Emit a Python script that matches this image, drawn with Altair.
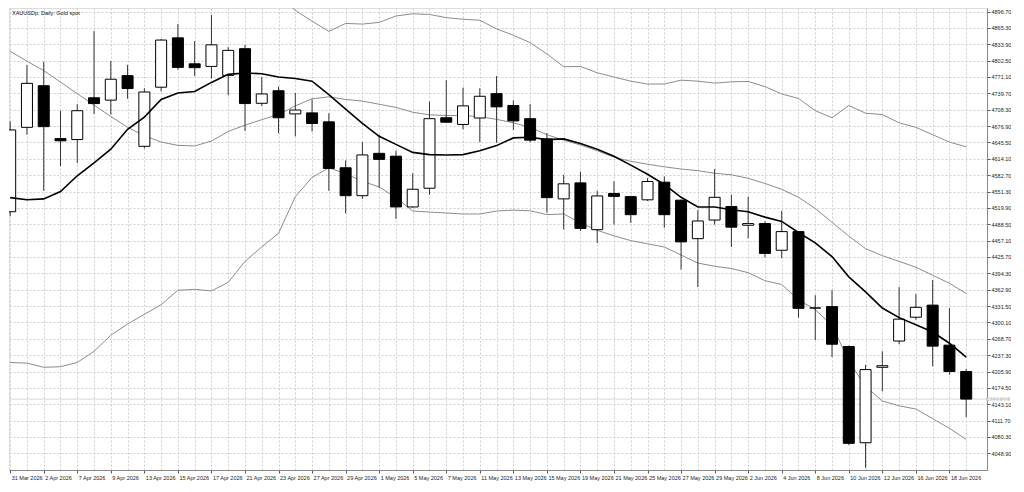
import json
import altair as alt
import pandas as pd

dates = ["31 Mar 2026", "1 Apr 2026", "2 Apr 2026", "6 Apr 2026", "7 Apr 2026", "8 Apr 2026",
         "9 Apr 2026", "10 Apr 2026", "13 Apr 2026", "14 Apr 2026", "15 Apr 2026", "16 Apr 2026",
         "17 Apr 2026", "20 Apr 2026", "21 Apr 2026", "22 Apr 2026", "23 Apr 2026", "24 Apr 2026",
         "27 Apr 2026", "28 Apr 2026", "29 Apr 2026", "30 Apr 2026", "1 May 2026", "4 May 2026",
         "5 May 2026", "6 May 2026", "7 May 2026", "8 May 2026", "11 May 2026", "12 May 2026",
         "13 May 2026", "14 May 2026", "15 May 2026", "18 May 2026", "19 May 2026", "20 May 2026",
         "21 May 2026", "22 May 2026", "25 May 2026", "26 May 2026", "27 May 2026", "28 May 2026",
         "29 May 2026", "1 Jun 2026", "2 Jun 2026", "3 Jun 2026", "4 Jun 2026", "5 Jun 2026",
         "8 Jun 2026", "9 Jun 2026", "10 Jun 2026", "11 Jun 2026", "12 Jun 2026", "15 Jun 2026",
         "16 Jun 2026", "17 Jun 2026", "18 Jun 2026", "19 Jun 2026"]

opens = [4512.5, 4674.5, 4754.4, 4652.9, 4651.0, 4731.2, 4726.7, 4773.7, 4638.1, 4751.5,
         4846.2, 4796.4, 4791.4, 4774.2, 4825.4, 4720.6, 4744.7, 4700.3, 4702.2, 4685.0,
         4596.9, 4543.3, 4624.6, 4619.1, 4521.7, 4557.6, 4692.9, 4680.0, 4692.4, 4739.1,
         4716.4, 4691.1, 4652.3, 4537.2, 4567.9, 4478.1, 4547.6, 4541.5, 4535.4, 4569.2,
         4534.7, 4460.8, 4496.6, 4522.5, 4486.6, 4489.8, 4438.6, 4474.4, 4327.8, 4330.4,
         4253.9, 4069.2, 4214.0, 4264.4, 4310.1, 4333.3, 4256.5, 4205.9]
highs = [4685.6, 4794.0, 4800.1, 4706.4, 4718.8, 4859.2, 4801.9, 4794.5, 4749.6, 4843.8,
         4872.7, 4840.1, 4890.0, 4828.3, 4832.8, 4771.1, 4752.6, 4740.4, 4728.0, 4701.6,
         4611.1, 4646.2, 4660.3, 4629.6, 4586.4, 4723.8, 4765.0, 4750.8, 4749.6, 4773.0,
         4726.2, 4718.8, 4663.4, 4583.4, 4589.5, 4552.6, 4571.0, 4543.3, 4577.1, 4580.3,
         4536.0, 4515.6, 4594.5, 4545.2, 4541.5, 4494.0, 4514.3, 4475.5, 4352.5, 4361.8,
         4255.5, 4218.8, 4244.7, 4367.9, 4354.4, 4381.4, 4327.8, 4210.9]
lows = [4504.5, 4660.3, 4552.6, 4600.0, 4606.1, 4700.3, 4699.0, 4729.3, 4633.8, 4743.4,
        4785.3, 4772.9, 4768.1, 4736.0, 4667.6, 4715.7, 4663.4, 4657.3, 4666.5, 4552.6,
        4509.5, 4537.2, 4558.7, 4499.0, 4520.2, 4545.2, 4682.8, 4670.8, 4646.2, 4644.9,
        4669.5, 4645.8, 4510.6, 4478.7, 4475.5, 4452.3, 4487.9, 4491.1, 4533.2, 4481.8,
        4401.7, 4367.9, 4487.9, 4444.9, 4461.5, 4425.1, 4423.3, 4309.3, 4266.3, 4233.6,
        4065.0, 4021.2, 4167.8, 4258.3, 4305.1, 4215.9, 4199.8, 4118.5]
closes = [4669.5, 4758.9, 4675.8, 4648.6, 4706.4, 4720.1, 4766.8, 4748.9, 4742.3, 4842.0,
          4789.5, 4789.0, 4832.8, 4822.2, 4720.1, 4738.6, 4692.9, 4707.7, 4681.9, 4595.6,
          4543.3, 4621.5, 4613.0, 4521.7, 4555.7, 4691.1, 4684.3, 4715.7, 4734.1, 4713.8,
          4686.8, 4649.9, 4539.6, 4566.1, 4480.5, 4542.8, 4542.0, 4506.9, 4570.5, 4506.9,
          4454.7, 4494.8, 4540.2, 4482.9, 4489.8, 4432.5, 4474.4, 4327.2, 4327.8, 4258.3,
          4068.1, 4209.6, 4217.0, 4306.4, 4329.1, 4254.6, 4205.9, 4153.0]

bb_upper = [5417.0, 5380.0, 5352.3, 5307.4, 5254.4, 5189.8, 5115.2, 5051.3, 5001.4, 4958.4,
            4918.3, 4914.0, 4935.6, 4956.0, 4940.4, 4933.6, 4928.6, 4898.9, 4878.2, 4858.6,
            4873.9, 4872.7, 4875.8, 4888.2, 4892.4, 4891.1, 4885.0, 4881.9, 4880.0, 4863.4,
            4851.2, 4837.0, 4815.4, 4790.8, 4791.4, 4779.2, 4771.1, 4763.1, 4757.6, 4757.6,
            4765.0, 4763.1, 4759.4, 4761.8, 4762.6, 4752.6, 4738.6, 4729.9, 4706.4, 4692.9,
            4716.4, 4701.6, 4699.0, 4683.2, 4674.5, 4660.3, 4646.2, 4637.0]
bb_middle = [4820.4, 4801.4, 4783.4, 4761.3, 4739.1, 4717.1, 4695.3, 4674.5, 4658.4, 4646.2,
             4639.9, 4638.8, 4648.1, 4666.5, 4678.7, 4689.2, 4699.0, 4715.7, 4729.3, 4733.0,
             4728.0, 4724.9, 4718.8, 4712.7, 4703.5, 4698.5, 4697.2, 4697.2, 4694.8, 4689.8,
             4683.2, 4674.5, 4660.3, 4649.9, 4640.7, 4629.6, 4617.2, 4609.3, 4603.7, 4598.7,
             4594.5, 4591.4, 4586.4, 4583.4, 4576.6, 4566.8, 4555.7, 4540.2, 4518.8, 4492.2,
             4465.8, 4441.7, 4428.3, 4417.2, 4406.1, 4390.6, 4375.3, 4355.5]
bb_lower = [4223.2, 4222.0, 4214.0, 4215.1, 4223.2, 4244.7, 4275.5, 4297.1, 4315.6, 4334.1,
            4361.8, 4363.6, 4360.5, 4377.1, 4417.2, 4444.9, 4471.3, 4541.5, 4578.4, 4596.9,
            4585.8, 4571.0, 4560.0, 4539.6, 4513.8, 4511.9, 4510.1, 4508.2, 4508.2, 4513.8,
            4515.6, 4514.3, 4507.0, 4508.2, 4491.1, 4476.8, 4466.3, 4457.1, 4451.0, 4444.9,
            4429.4, 4414.0, 4407.9, 4403.5, 4395.6, 4380.2, 4372.9, 4343.3, 4324.8, 4294.0,
            4226.2, 4177.1, 4149.4, 4140.1, 4133.9, 4115.4, 4096.9, 4075.5]
ma_line = [4539.6, 4535.4, 4537.2, 4551.3, 4581.6, 4606.1, 4632.5, 4670.8, 4694.2, 4728.0,
           4740.4, 4743.4, 4760.7, 4776.1, 4778.8, 4777.3, 4771.1, 4768.1, 4763.1, 4737.3,
           4709.6, 4681.9, 4657.3, 4641.8, 4626.4, 4622.2, 4621.5, 4622.2, 4629.6, 4639.4,
           4654.2, 4655.5, 4651.0, 4652.3, 4643.6, 4632.5, 4619.1, 4601.9, 4584.5, 4564.9,
           4540.2, 4521.7, 4521.7, 4516.2, 4512.5, 4502.2, 4494.0, 4472.6, 4452.8, 4426.4,
           4387.6, 4358.6, 4327.8, 4309.3, 4295.8, 4281.6, 4260.2, 4233.6]

y_ticks = [4048.9, 4080.3, 4111.7, 4143.1, 4174.5, 4205.9, 4237.3, 4268.7, 4300.1, 4331.5,
           4362.9, 4394.3, 4425.7, 4457.1, 4488.5, 4519.9, 4551.3, 4582.7, 4614.1, 4645.5,
           4676.9, 4708.3, 4739.7, 4771.1, 4802.5, 4833.9, 4865.3, 4896.7]
chart_title = "XAUUSDp, Daily:  Gold spot"

df = pd.DataFrame({
    "i": list(range(len(dates))), "date": dates,
    "open": opens, "high": highs, "low": lows, "close": closes,
    "upper": bb_upper, "middle": bb_middle, "lower": bb_lower, "ma": ma_line,
})
last_df = df.tail(1)
title_df = pd.DataFrame({"t": [chart_title]})

W, H = 978, 462
FONT = "Liberation Sans"
FS = 5.5

x_scale = alt.Scale(domain=[-0.07, 58.24], nice=False, zero=False, padding=0)
y_scale = alt.Scale(domain=[4016.9, 4903.5], nice=False, zero=False, padding=0)

label_expr = "datum.value % 2 === 0 ? " + json.dumps(dates) + "[datum.value] : ''"

x_axis = alt.Axis(
    values=list(range(len(dates))), labelExpr=label_expr, labelAlign="left",
    labelFlush=False, labelOverlap=False, labelBound=False,
    labelFontSize=FS, labelFont=FONT, labelColor="#222", labelPadding=2, labelOffset=1,
    tickSize=3, tickColor="#555",
    tickOpacity={"condition": {"test": "datum.value % 2 === 0", "value": 1}, "value": 0},
    grid=True, gridColor="#cfcfcf", gridDash=[2, 2], gridWidth=1,
    domainColor="#888", title=None,
)
y_axis = alt.Axis(
    orient="right", values=y_ticks, format=".2f",
    labelFontSize=FS, labelFont=FONT, labelColor="#222", labelPadding=1,
    tickSize=3, tickColor="#555",
    grid=True, gridColor="#cfcfcf", gridDash=[2, 2], gridWidth=1,
    domainColor="#888", title=None,
)

base = alt.Chart(df).encode(x=alt.X("i:Q", scale=x_scale, axis=x_axis))

price_line = alt.Chart(last_df).mark_rule(color="#d6d6d6", strokeWidth=1).encode(
    y=alt.Y("close:Q", scale=y_scale, axis=y_axis)
)

wicks = base.mark_rule(color="#333", strokeWidth=1, clip=True).encode(
    y=alt.Y("low:Q", scale=y_scale, axis=y_axis), y2="high:Q"
)
bodies = base.mark_bar(size=11, stroke="#000", strokeWidth=1, clip=True).encode(
    y=alt.Y("open:Q", scale=y_scale, axis=y_axis), y2="close:Q",
    fill=alt.condition("datum.close < datum.open", alt.value("#000"), alt.value("#fff")),
)

def band(field, color, width):
    return base.mark_line(clip=True, color=color, strokeWidth=width).encode(
        y=alt.Y(f"{field}:Q", scale=y_scale, axis=y_axis)
    )

upper = band("upper", "#8c8c8c", 1)
middle = band("middle", "#8c8c8c", 1)
lower = band("lower", "#8c8c8c", 1)
ma = band("ma", "#000", 1.6)

price_box = alt.Chart(last_df).mark_point(
    shape="M-1,-0.14H1V0.14H-1Z", filled=True, size=560, color="#c8c8c8", opacity=1
).encode(x=alt.value(W + 11), y=alt.Y("close:Q", scale=y_scale, axis=y_axis))
price_text = alt.Chart(last_df).mark_text(
    fontSize=FS, font=FONT, color="#fff", align="center", baseline="middle"
).encode(x=alt.value(W + 11), y=alt.Y("close:Q", scale=y_scale, axis=y_axis),
         text=alt.Text("close:Q", format=".2f"))

title_mark = alt.Chart(title_df).mark_text(
    fontSize=FS, font=FONT, color="#111", align="left", baseline="middle"
).encode(x=alt.value(3), y=alt.value(5), text="t:N")

chart = alt.layer(
    price_line, upper, middle, lower, wicks, bodies, ma, price_box, price_text, title_mark
).properties(width=W, height=H, padding=0).configure_view(
    stroke="#888", strokeWidth=1
).configure(background="#ffffff")

chart.save("out.html", embed_options={"renderer": "svg", "actions": False})
